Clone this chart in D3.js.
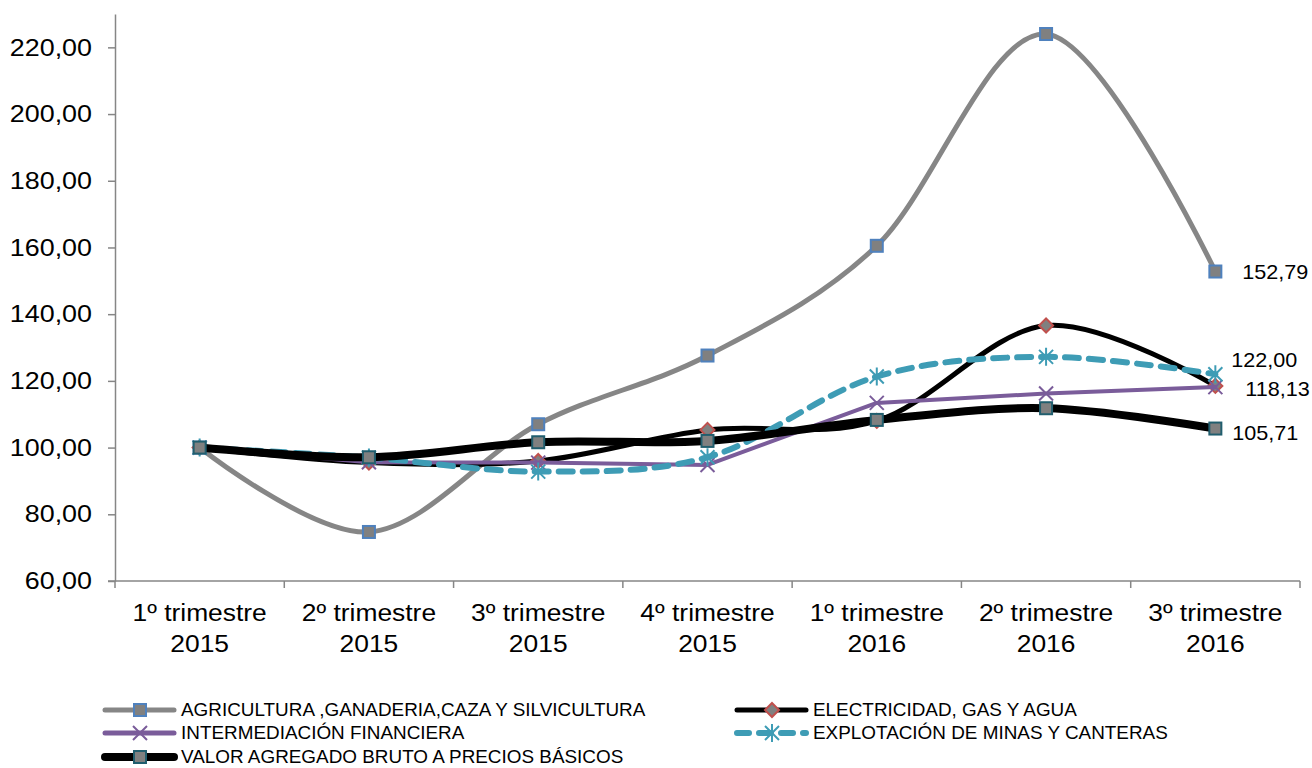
<!DOCTYPE html>
<html>
<head>
<meta charset="utf-8">
<script src="https://cdn.jsdelivr.net/npm/d3@7"></script>
<style>
  html, body { margin: 0; padding: 0; background: #fff; }
  svg { display: block; font-family: Arial, "Liberation Sans", sans-serif; }
</style>
</head>
<body>
<svg id="chart" width="1312" height="768"></svg>
<script>
// ---- data ----
const categories = [
  ["1º trimestre", "2015"], ["2º trimestre", "2015"], ["3º trimestre", "2015"],
  ["4º trimestre", "2015"], ["1º trimestre", "2016"], ["2º trimestre", "2016"],
  ["3º trimestre", "2016"]
];
const agricultura     = [100, 74.7, 107.0, 127.6, 160.5, 224.0, 152.79];
const electricidad    = [100, 95.5, 96.0, 105.3, 108.0, 136.6, 118.5];
const intermediacion  = [100, 95.6, 95.5, 94.8, 113.4, 116.2, 118.13];
const explotacion     = [100, 97.0, 92.8, 97.1, 121.3, 127.2, 122.00];
const vab             = [100, 97.1, 101.6, 102.0, 108.3, 111.8, 105.71];
const yTicks = [60, 80, 100, 120, 140, 160, 180, 200, 220];
const seriesNames = [
  "AGRICULTURA ,GANADERIA,CAZA Y SILVICULTURA",
  "ELECTRICIDAD, GAS Y AGUA",
  "INTERMEDIACIÓN FINANCIERA",
  "EXPLOTACIÓN DE MINAS Y CANTERAS",
  "VALOR AGREGADO BRUTO A PRECIOS BÁSICOS"
];

// ---- styles ----
const styles = [
  { values: agricultura, color: "#868686", width: 5, dash: null, smooth: true, marker: "square", mFill: "#808080", mStroke: "#4F81BD", label: true, lx: 27, ly: 0 },
  { values: electricidad, color: "#000000", width: 5, dash: null, smooth: true, marker: "diamond", mFill: "#808080", mStroke: "#C0504D", label: false },
  { values: intermediacion, color: "#7A5C9A", width: 4, dash: null, smooth: false, marker: "x", mStroke: "#7A5C9A", label: true, lx: 30, ly: 2 },
  { values: explotacion, color: "#3E9CB5", width: 6, dash: "14,10", smooth: true, marker: "star", mStroke: "#3E9CB5", label: true, lx: 16, ly: -14 },
  { values: vab, color: "#000000", width: 8, dash: null, smooth: true, marker: "square", mFill: "#808080", mStroke: "#215E6E", label: true, lx: 17, ly: 4 }
];

const svg = d3.select("#chart");
const fmt = v => d3.format(".2f")(v).replace(".", ",");

const x = d3.scaleBand().domain(d3.range(categories.length)).range([115, 1300]).paddingInner(0).paddingOuter(0);
const cx = i => x(i) + x.bandwidth() / 2;
const y = d3.scaleLinear().domain([60, 230]).range([581, 14]);

const axisColor = "#868686";

// Y axis
const yAxis = svg.append("g").attr("transform", "translate(115,0)")
  .call(d3.axisLeft(y).tickValues(yTicks).tickSize(7).tickSizeOuter(0).tickPadding(16).tickFormat(fmt));
yAxis.select(".domain").attr("stroke", axisColor).attr("stroke-width", 1.5);
yAxis.selectAll(".tick line").attr("stroke", axisColor).attr("stroke-width", 1.5);
yAxis.selectAll(".tick text").attr("font-size", 24).attr("fill", "#000")
  .attr("font-family", "Arial, 'Liberation Sans', sans-serif")
  .attr("x", 0)
  .attr("transform", "translate(-23,0) scale(1.12,1)");

// X axis
const xAxis = svg.append("g").attr("transform", "translate(0,581)");
xAxis.append("line").attr("x1", 108).attr("x2", 1300).attr("y1", 0).attr("y2", 0)
  .attr("stroke", axisColor).attr("stroke-width", 1.5);
const bounds = d3.range(categories.length + 1).map(i => i < categories.length ? x(i) : x(categories.length - 1) + x.bandwidth());
xAxis.selectAll("line.tk").data(bounds).join("line").attr("class", "tk")
  .attr("x1", d => d).attr("x2", d => d).attr("y1", 0).attr("y2", 7)
  .attr("stroke", axisColor).attr("stroke-width", 1.5);
const xl = xAxis.selectAll("text.cat").data(categories).join("text").attr("class", "cat")
  .attr("text-anchor", "middle").attr("font-size", 24).attr("fill", "#000")
  .attr("transform", (d, i) => `translate(${cx(i)},0) scale(1.1,1)`);
xl.append("tspan").attr("x", 0).attr("y", 40).text(d => d[0]);
xl.append("tspan").attr("x", 0).attr("y", 71).text(d => d[1]);

// Lines
const smoothLine = d3.line().x((d, i) => cx(i)).y(d => y(d)).curve(d3.curveCardinal.tension(0));
const straightLine = d3.line().x((d, i) => cx(i)).y(d => y(d)).curve(d3.curveLinear);

function drawMarker(g, type, s, px, py) {
  const m = g.append("g").attr("transform", `translate(${px},${py})`);
  if (type === "square") {
    m.append("rect").attr("x", -6).attr("y", -6).attr("width", 12).attr("height", 12)
      .attr("fill", s.mFill).attr("stroke", s.mStroke).attr("stroke-width", 2);
  } else if (type === "diamond") {
    m.append("path").attr("d", "M0,-7L7,0L0,7L-7,0Z")
      .attr("fill", s.mFill).attr("stroke", s.mStroke).attr("stroke-width", 2);
  } else if (type === "x") {
    m.append("path").attr("d", "M-7,-7L7,7M-7,7L7,-7")
      .attr("stroke", s.mStroke).attr("stroke-width", 2);
  } else if (type === "star") {
    m.append("path").attr("d", "M-7,-7L7,7M-7,7L7,-7M0,-9L0,9")
      .attr("stroke", s.mStroke).attr("stroke-width", 2);
  }
}

const plot = svg.append("g");
styles.forEach(s => {
  const g = plot.append("g");
  g.append("path").datum(s.values)
    .attr("d", s.smooth ? smoothLine : straightLine)
    .attr("fill", "none").attr("stroke", s.color).attr("stroke-width", s.width)
    .attr("stroke-linecap", "round").attr("stroke-linejoin", "round")
    .attr("stroke-dasharray", s.dash);
  s.values.forEach((v, i) => drawMarker(g, s.marker, s, cx(i), y(v)));
});

// Data labels on last point
styles.forEach(s => {
  if (!s.label) return;
  const n = s.values.length - 1;
  svg.append("text")
    .attr("transform", `translate(${cx(n) + s.lx},${y(s.values[n]) + s.ly}) scale(1.08,1)`)
    .attr("dominant-baseline", "central")
    .attr("font-size", 20).attr("fill", "#000")
    .text(fmt(s.values[n]));
});

// Legend
const legendPos = [
  { x: 105, y: 710 }, { x: 737, y: 710 },
  { x: 105, y: 733 }, { x: 737, y: 733 },
  { x: 105, y: 757 }
];
const lg = svg.append("g");
styles.forEach((s, i) => {
  const p = legendPos[i];
  const g = lg.append("g");
  g.append("line").attr("x1", p.x).attr("x2", p.x + 69).attr("y1", p.y).attr("y2", p.y)
    .attr("stroke", s.color).attr("stroke-width", Math.max(s.width, 5))
    .attr("stroke-linecap", "round")
    .attr("stroke-dasharray", s.dash ? "12,10" : null);
  drawMarker(g, s.marker, s, p.x + 35, p.y);
  g.append("text")
    .attr("transform", `translate(${p.x + 76},${p.y}) scale(1.08,1)`)
    .attr("dominant-baseline", "central")
    .attr("font-size", 17.5).attr("fill", "#000").text(seriesNames[i]);
});
</script>
</body>
</html>
